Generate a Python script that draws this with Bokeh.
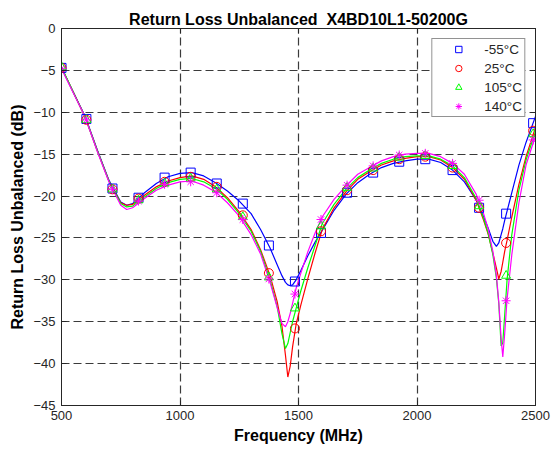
from bokeh.plotting import figure
from bokeh.models import Range1d, LinearAxis, FixedTicker, Legend, LegendItem
from bokeh.embed import file_html
from bokeh.resources import INLINE

# ---------------- data ----------------
freq_curve = [500, 550, 600, 650, 700, 750, 775, 800, 850, 900,
              950, 1000, 1050, 1100, 1150, 1200, 1250, 1300, 1340, 1380,
              1410, 1430, 1445, 1455, 1465, 1475, 1490, 1510, 1540, 1570,
              1600, 1650, 1700, 1750, 1800, 1850, 1900, 1950, 2000, 2050,
              2100, 2150, 2200, 2250, 2280, 2300, 2320, 2335, 2345, 2355,
              2362, 2370, 2380, 2400, 2430, 2460, 2500]

rl_m55 = [-4.7, -7.6, -10.5, -14.4, -18.1, -20.7, -21.1, -20.9, -19.6, -18.5,
          -17.7, -17.3, -17.2, -17.6, -18.4, -19.4, -20.6, -22.1, -24.0, -26.2,
          -28.2, -29.5, -30.3, -30.6, -30.7, -30.6, -30.0, -28.9, -27.1, -25.5,
          -24.1, -21.7, -19.8, -18.4, -17.4, -16.6, -16.1, -15.8, -15.6, -15.6,
          -16.0, -16.9, -18.3, -20.5, -22.4, -23.8, -25.4, -26.0, -25.6, -24.6,
          -23.9, -22.9, -21.8, -19.6, -16.3, -13.6, -10.5]

rl_25 = [-4.7, -7.6, -10.6, -14.5, -18.2, -20.8, -21.1, -21.0, -19.9, -18.9,
         -18.2, -17.8, -17.6, -18.0, -18.9, -20.2, -21.9, -24.0, -26.4, -29.5,
         -32.6, -35.5, -39.0, -41.6, -40.3, -38.0, -35.3, -33.0, -29.8, -26.8,
         -24.0, -21.4, -19.5, -18.0, -17.1, -16.3, -15.8, -15.5, -15.3, -15.3,
         -15.7, -16.6, -18.0, -20.5, -22.8, -24.5, -26.8, -28.6, -29.9, -29.0,
         -27.9, -26.6, -25.3, -22.5, -18.6, -15.3, -11.8]

rl_105 = [-4.6, -7.6, -10.6, -14.5, -18.2, -20.9, -21.3, -21.2, -20.1, -19.1,
          -18.4, -18.0, -17.9, -18.3, -19.1, -20.4, -22.1, -24.2, -26.6, -30.0,
          -33.2, -36.4, -38.2, -37.6, -36.3, -35.0, -33.4, -31.3, -28.5, -25.9,
          -23.3, -21.0, -19.2, -17.8, -16.9, -16.1, -15.6, -15.3, -15.2, -15.2,
          -15.6, -16.4, -17.8, -20.3, -22.6, -24.4, -27.0, -29.8, -32.8, -37.9,
          -37.5, -34.2, -30.0, -24.6, -19.3, -15.7, -12.3]

rl_140 = [-4.8, -7.7, -10.6, -14.6, -18.3, -21.1, -21.6, -21.4, -20.3, -19.3,
          -18.7, -18.3, -18.2, -18.7, -19.5, -20.8, -22.4, -24.6, -26.9, -30.3,
          -33.3, -35.2, -35.6, -35.0, -34.0, -32.8, -31.0, -29.2, -26.6, -24.4,
          -22.5, -20.4, -18.8, -17.4, -16.6, -15.8, -15.3, -15.0, -14.9, -14.9,
          -15.3, -16.1, -17.4, -19.8, -22.0, -23.9, -26.6, -29.5, -32.6, -37.0,
          -39.2, -36.4, -32.3, -27.0, -20.8, -16.3, -12.8]

freq_marker = [500, 605, 715, 825, 935, 1045, 1155, 1265, 1375, 1485,
               1595, 1705, 1815, 1925, 2035, 2150, 2262, 2376, 2490]

mk_m55 = [-4.7, -10.8, -19.1, -20.2, -17.8, -17.2, -18.5, -20.9, -25.9, -30.2,
          -24.4, -19.6, -17.2, -15.9, -15.6, -16.9, -21.4, -22.1, -11.3]
mk_25 = [-4.7, -10.9, -19.2, -20.3, -18.3, -17.7, -18.9, -22.3, -29.2, -35.8,
         -24.2, -19.3, -16.9, -15.6, -15.3, -16.6, -21.4, -25.6, -12.2]
mk_105 = [-4.6, -10.9, -19.2, -20.5, -18.5, -17.9, -19.2, -22.5, -29.7, -33.4,
          -23.6, -19.0, -16.7, -15.4, -15.2, -16.4, -21.2, -29.5, -12.6]
mk_140 = [-4.8, -10.9, -19.2, -20.6, -18.6, -18.3, -19.6, -22.8, -29.9, -31.7,
          -22.8, -18.7, -16.4, -15.1, -14.9, -16.1, -20.5, -32.5, -13.3]

labels = ["-55°C", "25°C", "105°C", "140°C"]
colors = ["#0000FF", "#FF0000", "#00FF00", "#FF00FF"]
markers = ["square", "circle", "triangle", "asterisk"]
curves = [rl_m55, rl_25, rl_105, rl_140]
marks = [mk_m55, mk_25, mk_105, mk_140]

x_ticks = [500, 1000, 1500, 2000, 2500]
y_ticks = [0, -5, -10, -15, -20, -25, -30, -35, -40, -45]

# ---------------- figure ----------------
FONT = "Liberation Sans"
AX = "#262626"

p = figure(width=551, height=455, output_backend="svg", toolbar_location=None,
           x_range=Range1d(500, 2500), y_range=Range1d(-45, 0),
           min_border_left=61, min_border_right=16, min_border_top=28,
           min_border_bottom=50,
           title="Return Loss Unbalanced\u00a0 X4BD10L1-50200G")
p.background_fill_color = "white"
p.border_fill_color = "white"
p.outline_line_color = AX
p.outline_line_width = 1

p.title.align = "center"
p.title.text_font = FONT
p.title.text_font_size = "16px"
p.title.text_font_style = "bold"
p.title.text_color = "black"
p.title.standoff = 2
p.title.offset = 0

for ax, tk in ((p.xaxis[0], x_ticks), (p.yaxis[0], y_ticks)):
    ax.ticker = FixedTicker(ticks=tk)
    ax.major_tick_in = 5
    ax.major_tick_out = 0
    ax.minor_tick_line_color = None
    ax.axis_line_color = AX
    ax.major_tick_line_color = AX
    ax.major_label_text_font = FONT
    ax.major_label_text_font_size = "13px"
    ax.major_label_text_color = AX
    ax.axis_label_text_font = FONT
    ax.axis_label_text_font_size = "16px"
    ax.axis_label_text_font_style = "bold"
    ax.axis_label_text_color = "black"

p.xaxis.axis_label = "Frequency (MHz)"
p.yaxis.axis_label = "Return Loss Unbalanced (dB)"
p.xaxis.major_label_standoff = 5
p.yaxis.major_label_standoff = 6
p.xaxis.axis_label_standoff = 4
p.yaxis.axis_label_standoff = 4

for side, tk in (("above", x_ticks), ("right", y_ticks)):
    a = LinearAxis(ticker=FixedTicker(ticks=tk), major_tick_in=5, major_tick_out=0,
                   minor_tick_line_color=None, axis_line_color=AX,
                   major_tick_line_color=AX, major_label_text_font_size="0px",
                   major_label_text_color=None, major_label_standoff=0)
    p.add_layout(a, side)

for g in (p.xgrid[0], p.ygrid[0]):
    g.grid_line_color = "#262626"
    g.grid_line_width = 1.2
    g.grid_line_dash = "8 4"
    g.grid_line_alpha = 0.9

items = []
for curve, col in zip(curves, colors):
    p.line(freq_curve, curve, line_color=col, line_width=1.2)
for mk, col, lab, mr in zip(marks, colors, labels, markers):
    r = p.scatter(freq_marker, mk, marker=mr, size=9, line_color=col,
                  fill_color=None, line_width=1)
    items.append(LegendItem(label=lab, renderers=[r]))

legend = Legend(items=items, location="top_right")
legend.label_text_font = FONT
legend.label_text_font_size = "13.5px"
legend.label_text_color = AX
legend.glyph_width = 48
legend.glyph_height = 16
legend.spacing = 3
legend.padding = 2
legend.margin = 10
legend.label_standoff = 2
legend.border_line_color = AX
legend.border_line_width = 1
legend.background_fill_color = "white"
legend.background_fill_alpha = 1
p.add_layout(legend)

open("out.html", "w").write(file_html(p, INLINE))
